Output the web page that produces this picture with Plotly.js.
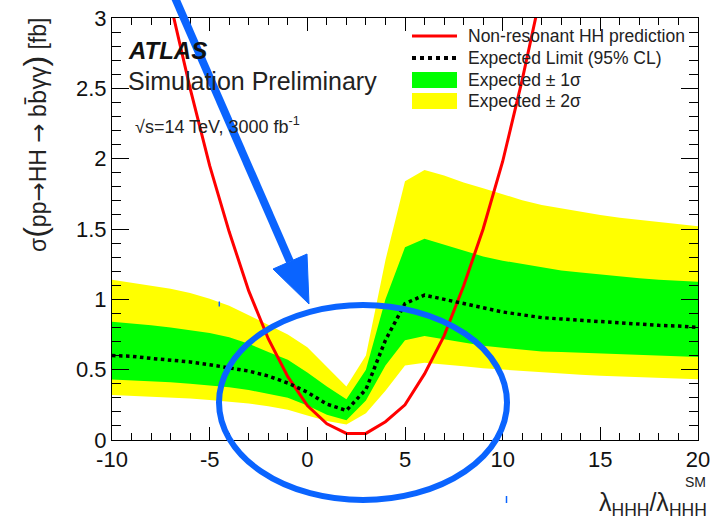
<!DOCTYPE html>
<html><head><meta charset="utf-8">
<script src="https://cdn.plot.ly/plotly-3.0.1.min.js"></script>
<style>html,body{margin:0;padding:0;background:#fff}</style>
</head><body><div id="chart" style="width:710px;height:520px"></div>
<script>
// ---- data ----
const lambda = [-10,-9,-8,-7,-6,-5,-4,-3,-2,-1,0,1,2,3,4,5,6,7,8,9,10,11,12,13,14,15,16,17,18,19,20];
const expectedLimit = [0.60,0.595,0.58,0.57,0.555,0.535,0.515,0.49,0.455,0.405,0.34,0.255,0.21,0.36,0.71,0.97,1.03,1.0,0.97,0.94,0.91,0.89,0.87,0.86,0.85,0.84,0.83,0.825,0.815,0.81,0.80];
const sigma1High = [0.84,0.83,0.815,0.80,0.78,0.76,0.73,0.685,0.625,0.57,0.48,0.38,0.29,0.5,1.0,1.37,1.43,1.39,1.345,1.305,1.275,1.25,1.225,1.205,1.19,1.175,1.16,1.15,1.14,1.13,1.125];
const sigma1Low = [0.43,0.425,0.42,0.41,0.40,0.39,0.375,0.355,0.33,0.30,0.245,0.18,0.14,0.28,0.53,0.71,0.74,0.715,0.69,0.67,0.655,0.64,0.63,0.625,0.62,0.615,0.61,0.605,0.60,0.595,0.59];
const sigma2High = [1.14,1.12,1.10,1.075,1.045,1.005,0.955,0.885,0.815,0.75,0.66,0.52,0.38,0.6,1.28,1.84,1.92,1.88,1.83,1.79,1.745,1.705,1.67,1.645,1.62,1.60,1.58,1.565,1.55,1.535,1.52];
const sigma2Low = [0.32,0.315,0.31,0.30,0.295,0.285,0.275,0.26,0.24,0.215,0.175,0.135,0.11,0.19,0.35,0.53,0.55,0.54,0.525,0.51,0.50,0.49,0.478,0.47,0.463,0.457,0.452,0.447,0.442,0.436,0.431];
const lambdaPred = [-7,-6,-5,-4,-3,-2,-1,0,1,2,3,4,5,6,7,8,9,10,11,12];
const predXsec = [3.1,2.5,1.95,1.48,1.06,0.72,0.45,0.245,0.115,0.047,0.047,0.13,0.25,0.47,0.74,1.095,1.50,1.98,2.56,3.2];
const xTickVals = [-10,-5,0,5,10,15,20];
const xTickText = ['-10','-5','0','5','10','15','20'];
const yTickVals = [0,0.5,1,1.5,2,2.5,3];
const yTickText = ['0','0.5','1','1.5','2','2.5','3'];
const seriesNames = ['Non-resonant HH prediction','Expected Limit (95% CL)','Expected ± 1σ','Expected ± 2σ'];

// ---- styles ----
const FONT = 'Liberation Sans, Arial, Helvetica, sans-serif';
const RED = '#ff0000', GREEN = '#00ff00', YELLOW = '#ffff00', BLUE = '#0a64ff';

const traces = [
  {x: lambda, y: sigma2Low, mode: 'lines', line: {width: 0, color: YELLOW}, showlegend: false, hoverinfo: 'skip'},
  {x: lambda, y: sigma2High, mode: 'lines', line: {width: 0, color: YELLOW}, fill: 'tonexty', fillcolor: YELLOW, showlegend: false, name: seriesNames[3]},
  {x: lambda, y: sigma1Low, mode: 'lines', line: {width: 0, color: GREEN}, showlegend: false, hoverinfo: 'skip'},
  {x: lambda, y: sigma1High, mode: 'lines', line: {width: 0, color: GREEN}, fill: 'tonexty', fillcolor: GREEN, showlegend: false, name: seriesNames[2]},
  {x: lambdaPred, y: predXsec, mode: 'lines', line: {color: RED, width: 3}, name: seriesNames[0], showlegend: false},
  {x: lambda, y: expectedLimit, mode: 'lines', line: {color: '#000', width: 3.5, dash: 'dot'}, name: seriesNames[1], showlegend: false}
];

const L = 112, R = 698, T = 18, B = 440;
const px = v => (v - L) / (R - L);
const py = v => (B - v) / (B - T);

const axisCommon = {
  ticks: 'inside', tickcolor: '#000', tickwidth: 1, showline: true, linecolor: '#000', linewidth: 1,
  mirror: 'ticks', showgrid: false, zeroline: false, tickmode: 'array', ticklabeloverflow: 'allow',
  tickfont: {family: FONT, size: 22, color: '#111'}
};

// legend drawn as a ROOT-style box: symbol column and text column
const legRows = [36, 58, 80, 101];
const legX0 = 412, legX1 = 457, legText = 466;
const legendShapes = [
  {type: 'line', xref: 'paper', yref: 'paper', x0: px(legX0), x1: px(legX1), y0: py(legRows[0]), y1: py(legRows[0]), line: {color: RED, width: 3}},
  {type: 'line', xref: 'paper', yref: 'paper', x0: px(legX0), x1: px(legX1), y0: py(legRows[1]), y1: py(legRows[1]), line: {color: '#000', width: 4, dash: 'dot'}},
  {type: 'rect', xref: 'paper', yref: 'paper', x0: px(legX0), x1: px(legX1), y0: py(legRows[2] - 8), y1: py(legRows[2] + 8), line: {width: 0}, fillcolor: GREEN},
  {type: 'rect', xref: 'paper', yref: 'paper', x0: px(legX0), x1: px(legX1), y0: py(legRows[3] - 8), y1: py(legRows[3] + 8), line: {width: 0}, fillcolor: YELLOW}
];
const legendTexts = seriesNames.map((n, i) => ({
  xref: 'paper', yref: 'paper', x: px(legText), y: py(legRows[i]), xanchor: 'left', yanchor: 'middle', showarrow: false,
  text: n, font: {family: FONT, size: 17.5, color: '#222'}
}));

const layout = {
  width: 710, height: 520,
  margin: {l: L, r: 710 - R, t: T, b: 520 - B, pad: 0},
  paper_bgcolor: '#fff', plot_bgcolor: '#fff',
  font: {family: FONT, color: '#111'},
  showlegend: false,
  xaxis: Object.assign({}, axisCommon, {range: [-10, 20], tickvals: xTickVals, ticktext: xTickText, ticklen: 13,
          minor: {ticks: 'inside', ticklen: 7, dtick: 1, tickcolor: '#000', tickwidth: 1, showgrid: false}}),
  yaxis: Object.assign({}, axisCommon, {range: [0, 3], tickvals: yTickVals, ticktext: yTickText, ticklen: 17,
          minor: {ticks: 'inside', ticklen: 9, dtick: 0.1, tickcolor: '#000', tickwidth: 1, showgrid: false}}),
  annotations: legendTexts.concat([
    {xref: 'paper', yref: 'paper', x: px(126), y: py(51), xanchor: 'left', yanchor: 'middle', showarrow: false,
     text: '<b><i>ATLAS</i></b>', font: {family: FONT, size: 24, color: '#111'}},
    {xref: 'paper', yref: 'paper', x: px(126), y: py(81), xanchor: 'left', yanchor: 'middle', showarrow: false,
     text: 'Simulation Preliminary', font: {family: FONT, size: 25, color: '#222'}},
    {xref: 'paper', yref: 'paper', x: px(133), y: py(125), xanchor: 'left', yanchor: 'middle', showarrow: false,
     text: '√s=14 TeV, 3000 fb<sup>-1</sup>', font: {family: FONT, size: 18, color: '#222'}},
    {xref: 'paper', yref: 'paper', x: px(35), y: py(16), xanchor: 'center', yanchor: 'top', showarrow: false, textangle: -90,
     text: 'σ<span style="font-size:32px">(</span>pp<span style="font-family:DejaVu Sans">→</span>HH <span style="font-family:DejaVu Sans">→</span> b<span style="font-family:DejaVu Sans">b̄</span>γγ<span style="font-size:32px">)</span> [fb]',
     font: {family: FONT, size: 23, color: '#222'}},
    {xref: 'paper', yref: 'paper', x: px(709), y: py(504), xanchor: 'right', yanchor: 'middle', showarrow: false,
     text: 'λ<sub>HHH</sub>/λ<sub>HHH</sub>', font: {family: FONT, size: 25, color: '#222'}},
    {xref: 'paper', yref: 'paper', x: px(708), y: py(482), xanchor: 'right', yanchor: 'middle', showarrow: false,
     text: 'SM', font: {family: FONT, size: 14, color: '#222'}}
  ]),
  shapes: legendShapes.concat([
    {type: 'circle', xref: 'paper', yref: 'paper', x0: px(219), x1: px(507), y0: py(500), y1: py(305),
     line: {color: BLUE, width: 6}, layer: 'above'},
    {type: 'line', xref: 'paper', yref: 'paper', x0: px(173.8), y0: py(-5), x1: px(290), y1: py(261.7),
     line: {color: BLUE, width: 8}, layer: 'above'},
    {type: 'path', xref: 'paper', yref: 'paper',
     path: `M${px(309)},${py(304)} L${px(307)},${py(254)} L${px(273)},${py(269)} Z`,
     fillcolor: BLUE, line: {color: BLUE, width: 1}, layer: 'above'},
    {type: 'line', xref: 'paper', yref: 'paper', x0: px(219.3), x1: px(219.3), y0: py(301.5), y1: py(306.5),
     line: {color: BLUE, width: 1.5}, layer: 'above'},
    {type: 'line', xref: 'paper', yref: 'paper', x0: px(506.5), x1: px(506.5), y0: py(496), y1: py(503),
     line: {color: BLUE, width: 1.5}, layer: 'above'}
  ])
};

Plotly.newPlot('chart', traces, layout, {displayModeBar: false, staticPlot: true});
</script>
</body></html>
